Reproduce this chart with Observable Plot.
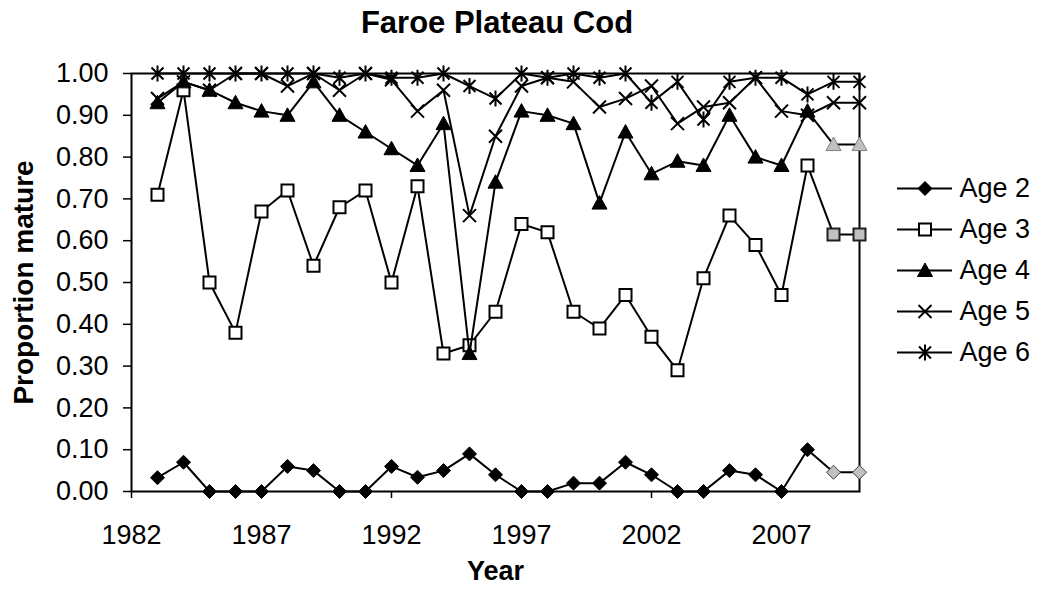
<!DOCTYPE html>
<html>
<head>
<meta charset="utf-8">
<script src="https://cdn.jsdelivr.net/npm/d3@7"></script>
<script src="https://cdn.jsdelivr.net/npm/@observablehq/plot@0.6"></script>
<style>
  html, body { margin: 0; padding: 0; background: #fff; }
  #wrap { position: relative; width: 1042px; height: 590px; background: #fff; font-family: "Liberation Sans", Arial, sans-serif; }
  #chart, #legend, #labels { position: absolute; }
  #chart { left: 0; top: 0; }
  #legend { left: 890px; top: 166px; }
  #labels { left: 0; top: 0; pointer-events: none; }
</style>
</head>
<body>
<div id="wrap">
  <div id="chart"></div>
  <div id="legend"></div>
  <svg id="labels" width="1042" height="590"></svg>
</div>
<script>
// ---- Data ----
const years = [1983,1984,1985,1986,1987,1988,1989,1990,1991,1992,1993,1994,1995,1996,1997,1998,1999,2000,2001,2002,2003,2004,2005,2006,2007,2008,2009,2010];
const age2 = [0.033,0.07,0,0,0,0.06,0.05,0,0,0.06,0.034,0.05,0.09,0.04,0,0,0.02,0.02,0.07,0.04,0,0,0.05,0.04,0,0.10,0.046,0.046];
const age3 = [0.71,0.96,0.50,0.38,0.67,0.72,0.54,0.68,0.72,0.50,0.73,0.33,0.35,0.43,0.64,0.62,0.43,0.39,0.47,0.37,0.29,0.51,0.66,0.59,0.47,0.78,0.615,0.615];
const age4 = [0.93,0.98,0.96,0.93,0.91,0.90,0.98,0.90,0.86,0.82,0.78,0.88,0.33,0.74,0.91,0.90,0.88,0.69,0.86,0.76,0.79,0.78,0.90,0.80,0.78,0.91,0.83,0.83];
const age5 = [0.94,0.98,0.96,1.00,1.00,0.97,1.00,0.96,1.00,0.985,0.91,0.96,0.66,0.85,0.97,0.99,0.98,0.92,0.94,0.97,0.88,0.92,0.93,0.99,0.91,0.90,0.93,0.93];
const age6 = [1.00,1.00,1.00,1.00,1.00,1.00,1.00,0.99,1.00,0.99,0.99,1.00,0.97,0.94,1.00,0.99,1.00,0.99,1.00,0.93,0.98,0.89,0.98,0.99,0.99,0.95,0.98,0.98];
const estimatedYears = [2009, 2010];
const seriesNames = ["Age 2","Age 3","Age 4","Age 5","Age 6"];
const seriesValues = [age2, age3, age4, age5, age6];
const yTicks = [0,0.1,0.2,0.3,0.4,0.5,0.6,0.7,0.8,0.9,1.0];
const xLabelTicks = [1982,1987,1992,1997,2002,2007];
const xMarkTicks = [1982,1992,2002];

// ---- custom marker shapes (Excel-like) ----
const rad = size => Math.sqrt(size / Math.PI);
const symDiamond = {draw(c, s){const r=rad(s); c.moveTo(0,-r); c.lineTo(r,0); c.lineTo(0,r); c.lineTo(-r,0); c.closePath();}};
const symSquare = {draw(c, s){const r=rad(s); c.moveTo(-r,-r); c.lineTo(r,-r); c.lineTo(r,r); c.lineTo(-r,r); c.closePath();}};
const symTriangle = {draw(c, s){const r=rad(s); c.moveTo(0,-r); c.lineTo(r,r*0.8); c.lineTo(-r,r*0.8); c.closePath();}};
const symTimes = {draw(c, s){const r=rad(s); c.moveTo(-r,-r); c.lineTo(r,r); c.moveTo(r,-r); c.lineTo(-r,r);}};
const symAster = {draw(c, s){const r=rad(s); const d=r*0.75; c.moveTo(-d,-d); c.lineTo(d,d); c.moveTo(d,-d); c.lineTo(-d,d); c.moveTo(0,-r); c.lineTo(0,r);}};

const styles = {
  "Age 2": {symbol: symDiamond, r: 7, fill: "black", stroke: "black", strokeWidth: 1, estFill: "#c0c0c0", estStroke: "#404040"},
  "Age 3": {symbol: symSquare, r: 6, fill: "white", stroke: "black", strokeWidth: 2, estFill: "#c0c0c0", estStroke: "#202020"},
  "Age 4": {symbol: symTriangle, r: 7.5, fill: "black", stroke: "black", strokeWidth: 1, estFill: "#c0c0c0", estStroke: "#808080"},
  "Age 5": {symbol: symTimes, r: 6.5, fill: "none", stroke: "black", strokeWidth: 2},
  "Age 6": {symbol: symAster, r: 8, fill: "none", stroke: "black", strokeWidth: 2}
};

const rows = [];
seriesNames.forEach((name, i) => {
  years.forEach((yr, j) => rows.push({series: name, year: yr, value: seriesValues[i][j], est: estimatedYears.includes(yr)}));
});

const marks = [Plot.frame({stroke: "black", strokeWidth: 2})];
for (const name of seriesNames) {
  const st = styles[name];
  const data = rows.filter(d => d.series === name);
  marks.push(Plot.line(data, {x: "year", y: "value", stroke: "black", strokeWidth: 2}));
  const hasEst = st.estFill !== undefined;
  marks.push(Plot.dot(hasEst ? data.filter(d => !d.est) : data, {x: "year", y: "value", symbol: st.symbol, r: st.r, fill: st.fill, stroke: st.stroke, strokeWidth: st.strokeWidth}));
  if (hasEst) {
    marks.push(Plot.dot(data.filter(d => d.est), {x: "year", y: "value", symbol: st.symbol, r: st.r, fill: st.estFill, stroke: st.estStroke, strokeWidth: st.strokeWidth}));
  }
}
marks.push(
  Plot.axisY({ticks: yTicks, tickSize: 8, tickPadding: 15, tickFormat: d3.format(".2f"), stroke: "black", strokeWidth: 1.5, label: null}),
  Plot.axisX({ticks: xLabelTicks, tickSize: 0, tickPadding: 33, tickFormat: d3.format("d"), label: null}),
  Plot.axisX({ticks: xMarkTicks, tickSize: 7, tickFormat: () => "", stroke: "black", strokeWidth: 1.5, label: null})
);

const chart = Plot.plot({
  width: 880,
  height: 590,
  marginLeft: 131,
  marginRight: 21,
  marginTop: 73,
  marginBottom: 99,
  x: {domain: [1982, 2010], label: null},
  y: {domain: [0, 1], label: null},
  style: {fontFamily: "'Liberation Sans', Arial, sans-serif", fontSize: "27px", color: "black", background: "transparent", overflow: "visible"},
  marks
});
document.getElementById("chart").appendChild(chart);

// ---- legend, drawn with Plot ----
const legendMarks = [Plot.ruleY(seriesNames, {y: d => d, stroke: "black", strokeWidth: 2})];
for (const name of seriesNames) {
  const st = styles[name];
  legendMarks.push(Plot.dot([name], {y: d => d, frameAnchor: "middle", symbol: st.symbol, r: st.r, fill: st.fill, stroke: st.stroke, strokeWidth: st.strokeWidth}));
}
legendMarks.push(Plot.text(seriesNames, {y: d => d, text: d => d, frameAnchor: "right", textAnchor: "start", dx: 7, fill: "black"}));
const legend = Plot.plot({
  width: 152,
  height: 208,
  marginLeft: 7,
  marginRight: 90,
  marginTop: 21,
  marginBottom: 21,
  x: {axis: null, domain: [0, 1]},
  y: {type: "point", domain: seriesNames, axis: null, padding: 0},
  style: {fontFamily: "'Liberation Sans', Arial, sans-serif", fontSize: "27px", color: "black", background: "transparent", overflow: "visible"},
  marks: legendMarks
});
document.getElementById("legend").appendChild(legend);

// ---- titles ----
const lab = d3.select("#labels").style("font-family", "'Liberation Sans', Arial, sans-serif").style("font-weight", "bold").attr("fill", "black");
lab.append("text").attr("x", 497).attr("y", 33).attr("text-anchor", "middle").attr("font-size", 31).text("Faroe Plateau Cod");
lab.append("text").attr("x", 495.5).attr("y", 580).attr("text-anchor", "middle").attr("font-size", 27).text("Year");
lab.append("text").attr("transform", "translate(32.5,282.5) rotate(-90)").attr("text-anchor", "middle").attr("font-size", 28).text("Proportion mature");
</script>
</body>
</html>
